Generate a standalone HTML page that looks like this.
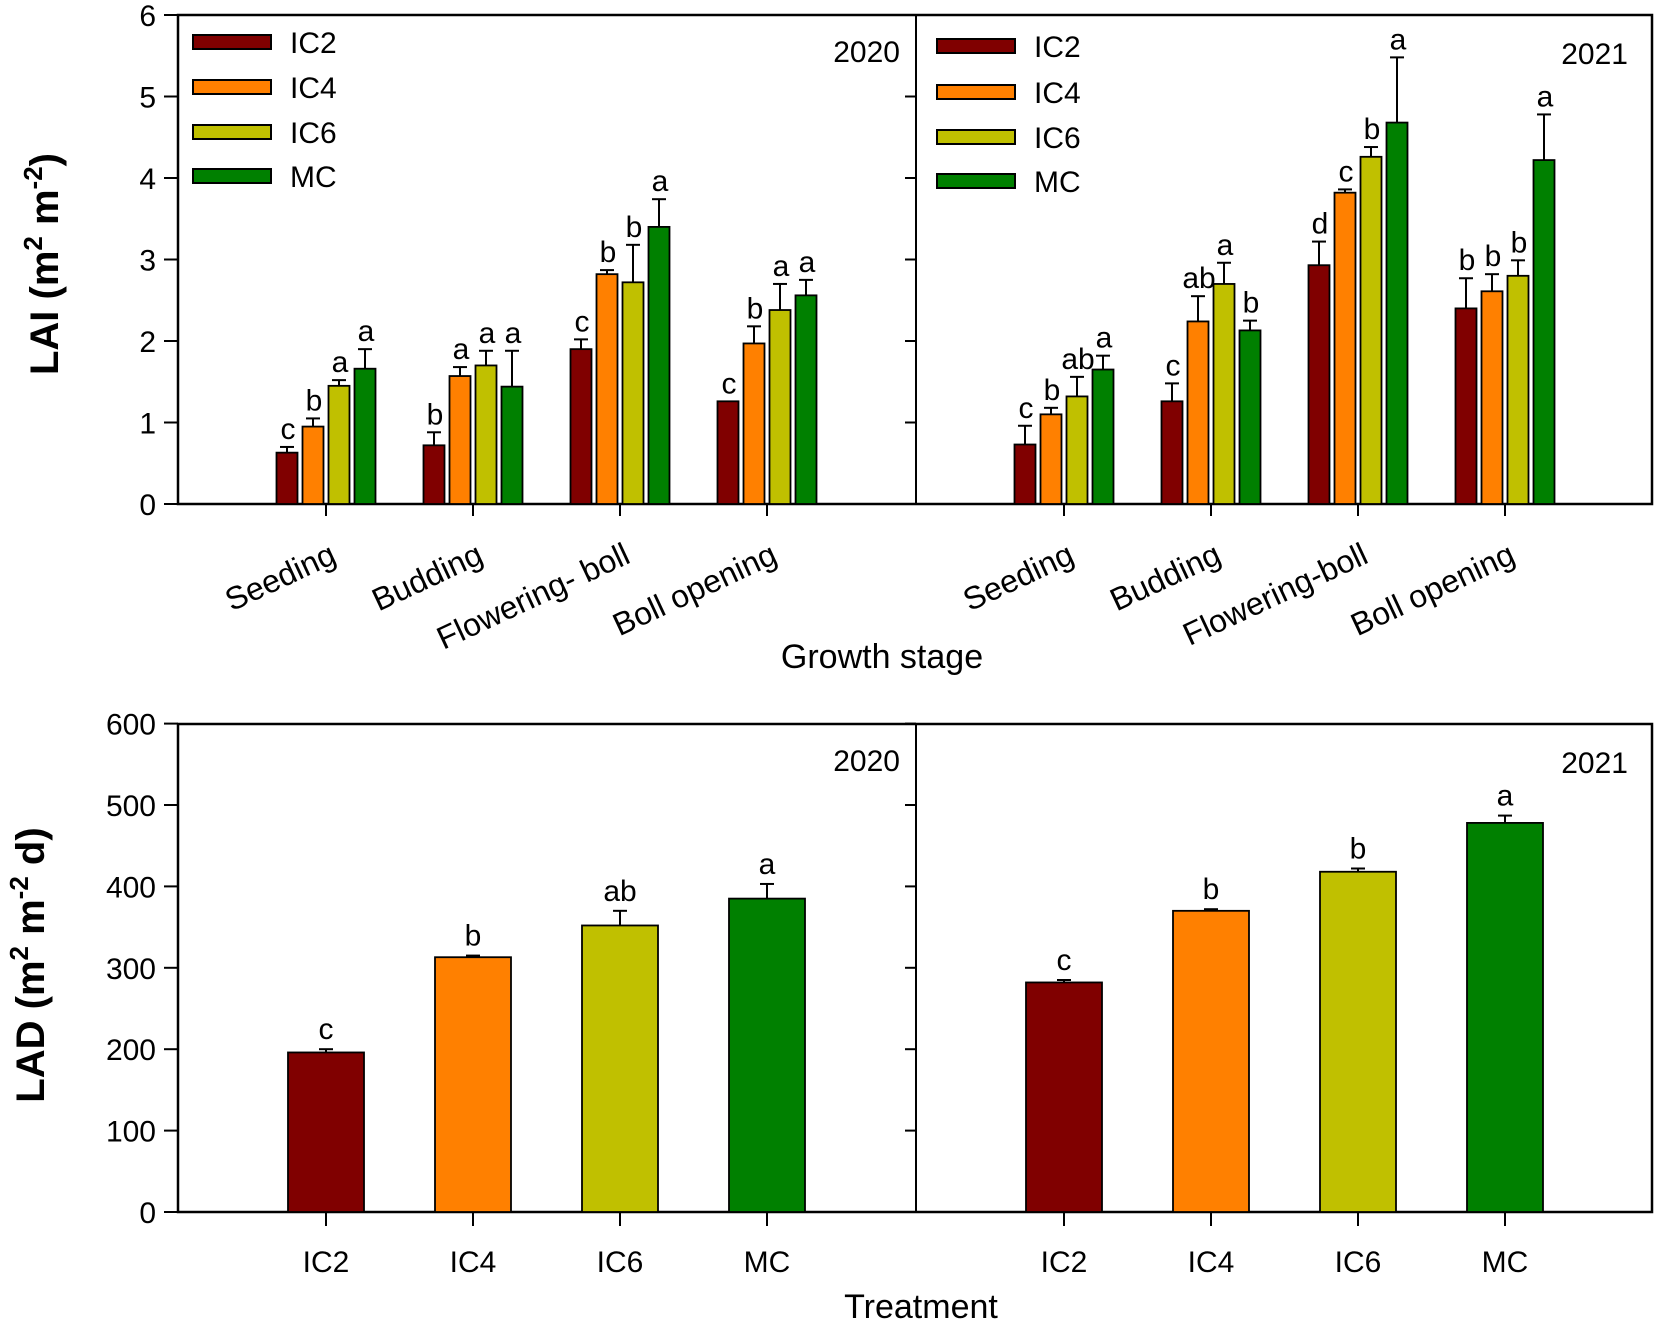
<!DOCTYPE html>
<html><head><meta charset="utf-8"><style>
html,body{margin:0;padding:0;background:#fff;}
svg{display:block;font-family:"Liberation Sans",Arial,sans-serif;}
</style></head><body>
<svg id="chart" width="1654" height="1319" viewBox="0 0 1654 1319" xmlns="http://www.w3.org/2000/svg"></svg>
<script>
const treatments = ["IC2","IC4","IC6","MC"];
const colors = ["#800000","#ff8000","#c0c000","#008000"];
const stages2020 = ["Seeding","Budding","Flowering- boll","Boll opening"];
const stages2021 = ["Seeding","Budding","Flowering-boll","Boll opening"];
const lai2020 = [[0.63,0.95,1.45,1.66],[0.72,1.57,1.70,1.44],[1.90,2.82,2.72,3.40],[1.26,1.97,2.38,2.56]];
const lai2020Err = [[0.70,1.05,1.52,1.90],[0.88,1.68,1.88,1.88],[2.02,2.87,3.18,3.74],[1.26,2.18,2.70,2.75]];
const lai2020Let = [["c","b","a","a"],["b","a","a","a"],["c","b","b","a"],["c","b","a","a"]];
const lai2021 = [[0.73,1.10,1.32,1.65],[1.26,2.24,2.70,2.13],[2.93,3.82,4.26,4.68],[2.40,2.61,2.80,4.22]];
const lai2021Err = [[0.96,1.18,1.56,1.82],[1.48,2.55,2.96,2.25],[3.22,3.86,4.38,5.48],[2.77,2.82,2.99,4.78]];
const lai2021Let = [["c","b","ab","a"],["c","ab","a","b"],["d","c","b","a"],["b","b","b","a"]];
const lad2020 = [196,313,352,385];
const lad2020Err = [200,315,370,403];
const lad2020Let = ["c","b","ab","a"];
const lad2021 = [282,370,418,478];
const lad2021Err = [285,372,422,487];
const lad2021Let = ["c","b","b","a"];
const laiTicks = [0,1,2,3,4,5,6];
const ladTicks = [0,100,200,300,400,500,600];

const svg = document.getElementById('chart');
const NS = "http://www.w3.org/2000/svg";
function mk(tag, attrs, parent, text){
  const e = document.createElementNS(NS, tag);
  for (const k in attrs) e.setAttribute(k, attrs[k]);
  if (text !== undefined) e.textContent = text;
  (parent||svg).appendChild(e);
  return e;
}
const L = 178, M = 916, R = 1652, PW = 738;
const topY0 = 504, topUnit = 81.5, topTop = 15;
const botY0 = 1212, botUnit = 0.814, botTop = 724;
const yTop = v => topY0 - v*topUnit;
const yBot = v => botY0 - v*botUnit;
const xGroup = (panel,i) => L + panel*PW + 148 + i*147;

function frame(y0, yTopPx, name){
  const g = mk('g', {});
  
  
  mk('rect', {x:L, y:yTopPx, width:R-L, height:y0-yTopPx, fill:'none', stroke:'#000', 'stroke-width':2.5}, g);
  mk('line', {x1:M, y1:yTopPx, x2:M, y2:y0, stroke:'#000', 'stroke-width':2}, g);
  return g;
}

// ===== TOP (LAI) =====
frame(topY0, topTop, 'lai-plot-frame');
laiTicks.forEach(t=>{
  const y = yTop(t);
  mk('line',{x1:L-14,y1:y,x2:L,y2:y,stroke:'#000','stroke-width':2});
  mk('line',{x1:M-11,y1:y,x2:M,y2:y,stroke:'#000','stroke-width':2});
  const tl = mk('text',{x:L-22,y:y+11,'font-size':30,'text-anchor':'end'},svg,String(t));
  
  
});
const yt = mk('text',{x:0,y:0,'font-size':40,'font-weight':'bold','text-anchor':'middle',transform:'translate(58,264) rotate(-90)'});


yt.innerHTML = 'LAI (m<tspan dy="-16" font-size="26">2</tspan><tspan dy="16"> m</tspan><tspan dy="-16" font-size="26">-2</tspan><tspan dy="16">)</tspan>';

function laiPanel(panel, vals, errs, lets, stages){
  for (let s=0;s<4;s++){
    const c = xGroup(panel,s);
    mk('line',{x1:c,y1:topY0,x2:c,y2:topY0+12,stroke:'#000','stroke-width':2});
    const lab = mk('text',{x:0,y:0,'font-size':32,'text-anchor':'end',transform:`translate(${c+12},${topY0+58}) rotate(-25)`},svg,stages[s]);
    
    
    for (let i=0;i<4;i++){
      const x = c - 52 + i*26 + 2.5;
      const yv = yTop(vals[s][i]), ye = yTop(errs[s][i]);
      const cx = x + 10.5;
      if (ye < yv-1){
        mk('line',{x1:cx,y1:yv,x2:cx,y2:ye,stroke:'#000','stroke-width':2});
        mk('line',{x1:cx-7,y1:ye,x2:cx+7,y2:ye,stroke:'#000','stroke-width':2});
      }
      const b = mk('rect',{x:x,y:yv,width:21,height:topY0-yv,fill:colors[i],stroke:'#000','stroke-width':1.8});
      
      
      const lt = mk('text',{x:cx+1,y:ye-8,'font-size':30,'text-anchor':'middle'},svg,lets[s][i]);
      
      
    }
  }
}
laiPanel(0, lai2020, lai2020Err, lai2020Let, stages2020);
laiPanel(1, lai2021, lai2021Err, lai2021Let, stages2021);

function legend(x0, ys, name){
  const g = mk('g',{});
  
  
  treatments.forEach((t,i)=>{
    const e = mk('g',{},g);
    
    
    mk('rect',{x:x0,y:ys[i]-7,width:78,height:14,fill:colors[i],stroke:'#000','stroke-width':2},e);
    mk('text',{x:x0+97,y:ys[i]+11,'font-size':30},e,t);
  });
}
legend(193,[42,87,132,176],'legend-2020');
legend(937,[46,92,137,181],'legend-2021');
[['2020',900,62],['2021',1628,64],['2020',900,771],['2021',1628,773]].forEach(a=>{
  const t = mk('text',{x:a[1],y:a[2],'font-size':30,'text-anchor':'end'},svg,a[0]);
  
  
});
const gs = mk('text',{x:882,y:668,'font-size':34,'text-anchor':'middle'},svg,'Growth stage');



// ===== BOTTOM (LAD) =====
frame(botY0, botTop, 'lad-plot-frame');
ladTicks.forEach(t=>{
  const y = yBot(t);
  mk('line',{x1:L-14,y1:y,x2:L,y2:y,stroke:'#000','stroke-width':2});
  mk('line',{x1:M-11,y1:y,x2:M,y2:y,stroke:'#000','stroke-width':2});
  const tl = mk('text',{x:L-22,y:y+11,'font-size':30,'text-anchor':'end'},svg,String(t));
  
  
});
const yb = mk('text',{x:0,y:0,'font-size':40,'font-weight':'bold','text-anchor':'middle',transform:'translate(44,965) rotate(-90)'});


yb.innerHTML = 'LAD (m<tspan dy="-16" font-size="26">2</tspan><tspan dy="16"> m</tspan><tspan dy="-16" font-size="26">-2</tspan><tspan dy="16"> d)</tspan>';

function ladPanel(panel, vals, errs, lets){
  for (let i=0;i<4;i++){
    const c = L + panel*PW + 148 + i*147;
    mk('line',{x1:c,y1:botY0,x2:c,y2:botY0+14,stroke:'#000','stroke-width':2});
    const tl = mk('text',{x:c,y:botY0+60,'font-size':30,'text-anchor':'middle'},svg,treatments[i]);
    
    
    const yv = yBot(vals[i]), ye = yBot(errs[i]);
    mk('line',{x1:c,y1:yv,x2:c,y2:ye,stroke:'#000','stroke-width':2});
    mk('line',{x1:c-7,y1:ye,x2:c+7,y2:ye,stroke:'#000','stroke-width':2});
    const b = mk('rect',{x:c-38,y:yv,width:76,height:botY0-yv,fill:colors[i],stroke:'#000','stroke-width':1.8});
    
    
    const lt = mk('text',{x:c,y:ye-10,'font-size':30,'text-anchor':'middle'},svg,lets[i]);
    
    
  }
}
ladPanel(0, lad2020, lad2020Err, lad2020Let);
ladPanel(1, lad2021, lad2021Err, lad2021Let);
const tt = mk('text',{x:921,y:1318,'font-size':34,'text-anchor':'middle'},svg,'Treatment');


</script>
</body></html>
